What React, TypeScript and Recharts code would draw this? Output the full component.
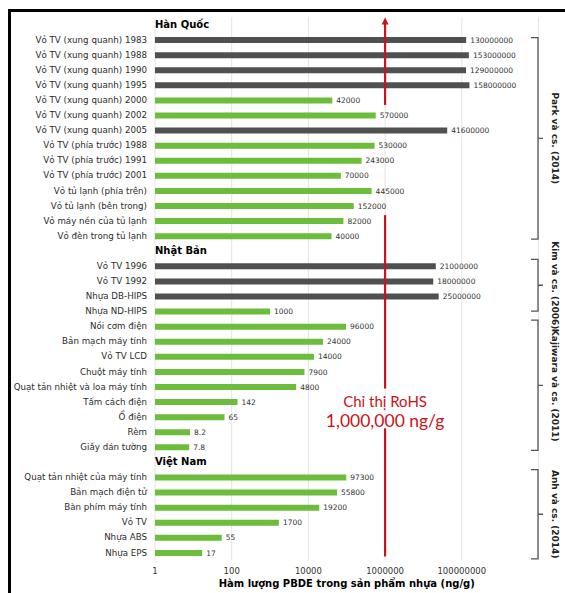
import React from 'react';
import { BarChart, Bar, XAxis, YAxis, CartesianGrid, Cell, LabelList, ReferenceLine } from 'recharts';

const groupTitles = ['Hàn Quốc', 'Nhật Bản', 'Việt Nam'];

const koreaLabels = [
  'Vỏ TV (xung quanh) 1983',
  'Vỏ TV (xung quanh) 1988',
  'Vỏ TV (xung quanh) 1990',
  'Vỏ TV (xung quanh) 1995',
  'Vỏ TV (xung quanh) 2000',
  'Vỏ TV (xung quanh) 2002',
  'Vỏ TV (xung quanh) 2005',
  'Vỏ TV (phía trước) 1988',
  'Vỏ TV (phía trước) 1991',
  'Vỏ TV (phía trước) 2001',
  'Vỏ tủ lạnh (phía trên)',
  'Vỏ tủ lạnh (bên trong)',
  'Vỏ máy nén của tủ lạnh',
  'Vỏ đèn trong tủ lạnh',
];
const koreaValues = [130000000, 153000000, 129000000, 158000000, 42000, 570000, 41600000, 530000, 243000, 70000, 445000, 152000, 82000, 40000];

const japanLabels = [
  'Vỏ TV 1996',
  'Vỏ TV 1992',
  'Nhựa DB-HIPS',
  'Nhựa ND-HIPS',
  'Nồi cơm điện',
  'Bản mạch máy tính',
  'Vỏ TV LCD',
  'Chuột máy tính',
  'Quạt tản nhiệt và loa máy tính',
  'Tấm cách điện',
  'Ổ điện',
  'Rèm',
  'Giấy dán tường',
];
const japanValues = [21000000, 18000000, 25000000, 1000, 96000, 24000, 14000, 7900, 4800, 142, 65, 8.2, 7.8];

const vietnamLabels = [
  'Quạt tản nhiệt của máy tính',
  'Bản mạch điện tử',
  'Bàn phím máy tính',
  'Vỏ TV',
  'Nhựa ABS',
  'Nhựa EPS',
];
const vietnamValues = [97300, 55800, 19200, 1700, 55, 17];

const xTicks = [1, 100, 10000, 1000000, 100000000];
const xDomain = [1, 10000000000];
const rohsLimit = 1000000;
const rohsTitle = 'Chỉ thị RoHS';
const rohsValueText = '1,000,000 ng/g';
const xAxisTitle = 'Hàm lượng PBDE trong sản phẩm nhựa (ng/g)';

const studies = [
  { label: 'Park và cs. (2014)', from: 'Vỏ TV (xung quanh) 1983', to: 'Vỏ đèn trong tủ lạnh', padTop: 2, padBottom: 3.5 },
  { label: 'Kim và cs. (2006)', from: 'Vỏ TV 1996', to: 'Nhựa ND-HIPS', padTop: 6.5, padBottom: 0 },
  { label: 'Kajiwara và cs. (2011)', from: 'Nồi cơm điện', to: 'Giấy dán tường', padTop: 6, padBottom: 3.5 },
  { label: 'Anh và cs. (2014)', from: 'Quạt tản nhiệt của máy tính', to: 'Nhựa EPS', padTop: 7.5, padBottom: 6.5 },
];

type Row = { key: string; value: number | null; header: boolean };

const rows: Row[] = [];
const addGroup = (title: string, labels: string[], values: number[]) => {
  rows.push({ key: title, value: null, header: true });
  labels.forEach((l, i) => rows.push({ key: l, value: values[i], header: false }));
};
addGroup(groupTitles[0], koreaLabels, koreaValues);
addGroup(groupTitles[1], japanLabels, japanValues);
addGroup(groupTitles[2], vietnamLabels, vietnamValues);

const FONT = '"DejaVu Sans", Verdana, sans-serif';
const GRAY = '#505050';
const GREEN = '#6cbd3c';
const RED = '#c8141c';

const YTick = (props: any) => {
  const { x, y, payload } = props;
  const isHeader = groupTitles.includes(payload.value);
  if (isHeader) {
    return (
      <text x={x + 8} y={y} dy="0.35em" textAnchor="start" fontFamily={FONT} fontWeight="bold" fontSize={10} fill="#000">
        {payload.value}
      </text>
    );
  }
  return (
    <text x={x} y={y} dy="0.35em" textAnchor="end" fontFamily={FONT} fontSize={8.7} fill="#2b2b2b">
      {payload.value}
    </text>
  );
};

const XTick = (props: any) => {
  const { x, y, payload } = props;
  return (
    <text x={x} y={y} dy="0.71em" textAnchor="middle" fontFamily={FONT} fontSize={8.5} fill="#333">
      {String(payload.value)}
    </text>
  );
};

const redShape = (top: number, bottom: number, arrow: boolean, withText: boolean) => (p: any) => {
  const { x1, y1, y2 } = p;
  const ya = y1 - top;
  const yb = y2 + bottom;
  return (
    <g>
      <line x1={x1} x2={x1} y1={arrow ? ya + 5 : ya} y2={yb} stroke={RED} strokeWidth={2.2} />
      {arrow && <polygon points={`${x1},${ya} ${x1 - 3.5},${ya + 7} ${x1 + 3.5},${ya + 7}`} fill={RED} />}
      {withText && (
        <g>
          <text x={x1} y={yb + 13} dy="0.35em" textAnchor="middle" fontFamily="Lato, sans-serif" fontSize={15} fill={RED}>
            {rohsTitle}
          </text>
          <text x={x1} y={yb + 32} dy="0.35em" textAnchor="middle" fontFamily="Lato, sans-serif" fontSize={17.5} fill={RED}>
            {rohsValueText}
          </text>
        </g>
      )}
    </g>
  );
};

const bracketShape = (label: string, padTop: number, padBottom: number) => (p: any) => {
  const { x1, y1, y2 } = p;
  const top = y1 - padTop;
  const bottom = y2 + padBottom;
  const mid = (top + bottom) / 2;
  const x = x1 - 0.5;
  return (
    <g>
      <path d={`M${x - 7},${top} H${x} V${bottom} H${x - 7} M${x},${mid} H${x + 5}`} fill="none" stroke="#555" strokeWidth={1.3} />
      <text
        x={x + 17}
        y={mid}
        transform={`rotate(90 ${x + 17} ${mid})`}
        textAnchor="middle"
        dominantBaseline="central"
        fontFamily={FONT}
        fontWeight="bold"
        fontSize={9}
        fill="#222"
      >
        {label}
      </text>
    </g>
  );
};

export default function App() {
  return (
    <div style={{ position: 'absolute', left: 0, top: 0, width: 565, height: 593, background: '#fff', overflow: 'hidden' }}>
      <div
        style={{
          position: 'absolute',
          left: 8,
          top: 9,
          width: 600,
          height: 600,
          borderTop: '3px solid #000',
          borderLeft: '3px solid #000',
          boxSizing: 'border-box',
        }}
      />
      <div style={{ position: 'absolute', left: 0, top: 0 }}>
        <BarChart
          width={565}
          height={593}
          layout="vertical"
          data={rows}
          margin={{ top: 17, right: 26.5, bottom: 0, left: 0 }}
          barSize={6}
        >
          <CartesianGrid horizontal={false} stroke="#e4e4e4" />
          <XAxis
            type="number"
            dataKey="value"
            scale="log"
            domain={xDomain}
            ticks={xTicks}
            allowDataOverflow
            axisLine={false}
            tickLine={false}
            tick={<XTick />}
            height={33}
            label={{ value: xAxisTitle, position: 'insideBottom', offset: 6, fontFamily: FONT, fontWeight: 'bold', fontSize: 10, fill: '#000' }}
          />
          <YAxis type="category" dataKey="key" width={155} axisLine={false} tickLine={false} interval={0} tick={<YTick />} />
          <Bar dataKey="value" isAnimationActive={false}>
            {rows.map((r) => (
              <Cell key={r.key} fill={r.value !== null && r.value > rohsLimit ? GRAY : GREEN} />
            ))}
            <LabelList
              dataKey="value"
              position="right"
              offset={4}
              fontFamily={FONT}
              fontSize={7.5}
              fill="#333"
              formatter={(v: any) => (v === null || v === undefined ? '' : String(v))}
            />
          </Bar>
          <ReferenceLine
            segment={[{ x: rohsLimit, y: groupTitles[0] }, { x: rohsLimit, y: 'Vỏ TV (xung quanh) 2000' }]}
            shape={redShape(7, 5, true, false)}
          />
          <ReferenceLine
            segment={[{ x: rohsLimit, y: 'Vỏ máy nén của tủ lạnh' }, { x: rohsLimit, y: 'Quạt tản nhiệt và loa máy tính' }]}
            shape={redShape(5.5, 2, false, true)}
          />
          <ReferenceLine
            segment={[{ x: rohsLimit, y: 'Rèm' }, { x: rohsLimit, y: 'Nhựa EPS' }]}
            shape={redShape(3.5, 4, false, false)}
          />
          {studies.map((s) => (
            <ReferenceLine
              key={s.label}
              segment={[{ x: xDomain[1], y: s.from }, { x: xDomain[1], y: s.to }]}
              ifOverflow="visible"
              shape={bracketShape(s.label, s.padTop, s.padBottom)}
            />
          ))}
        </BarChart>
      </div>
    </div>
  );
}
